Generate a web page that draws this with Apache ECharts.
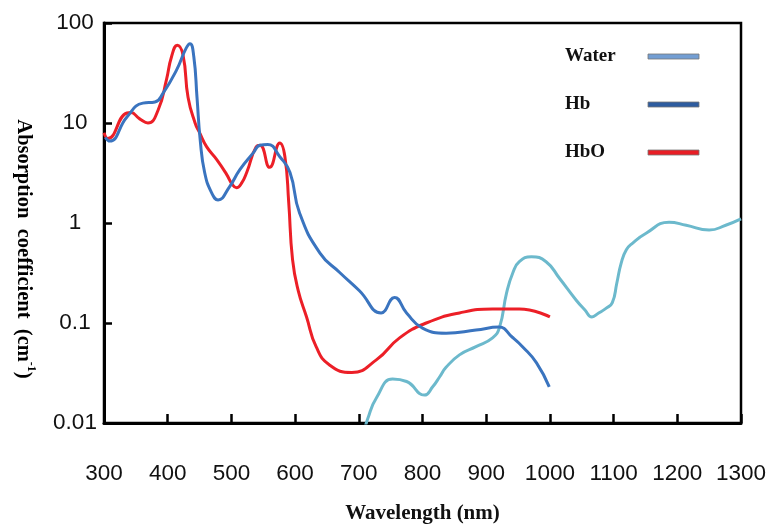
<!DOCTYPE html>
<html>
<head>
<meta charset="utf-8">
<script src="https://cdn.jsdelivr.net/npm/echarts@6/dist/echarts.min.js"></script>
<style>
html,body{margin:0;padding:0;background:#fff;}
#chart{width:769px;height:526px;}
</style>
</head>
<body>
<div id="chart"></div>
<script>
// ---- data ----
const seriesNames = ['Water', 'Hb', 'HbO'];
const xTickLabels = ['300','400','500','600','700','800','900','1000','1100','1200','1300'];
const yTickLabels = ['0.01','0.1','1','10','100'];

const waterWavelengths = [708, 714, 728, 753, 775, 803, 816, 827, 837, 858, 884, 910, 921, 932, 942, 952, 971, 994, 1015, 1041, 1055, 1066, 1076, 1088, 1098, 1105, 1112, 1120, 1130, 1151, 1187, 1214, 1250, 1276, 1300];
const waterValues      = [0.008, 0.011, 0.018, 0.0275, 0.026, 0.019, 0.023, 0.029, 0.036, 0.048, 0.058, 0.071, 0.091, 0.2, 0.32, 0.41, 0.46, 0.41, 0.28, 0.17, 0.135, 0.115, 0.125, 0.14, 0.16, 0.25, 0.4, 0.54, 0.63, 0.79, 1.02, 0.95, 0.85, 0.95, 1.1];

const hbWavelengths = [302, 309, 336, 361, 380, 393, 414, 429, 435, 441, 446, 451, 458, 469, 479, 497, 513, 534, 545, 557, 576, 592, 607, 639, 670, 701, 735, 756, 775, 800, 837, 884, 920, 941, 957, 979, 999];
const hbValues      = [7.2, 6.6, 11.5, 15.8, 16.2, 20, 34, 56, 62, 46, 18, 6.8, 3.2, 2.0, 1.7, 2.3, 3.4, 5.0, 6.0, 6.1, 4.6, 3.2, 1.26, 0.5, 0.32, 0.21, 0.126, 0.18, 0.126, 0.089, 0.079, 0.085, 0.091, 0.072, 0.058, 0.04, 0.023];

const hboWavelengths = [300, 306, 336, 342, 356, 369, 385, 398, 406, 415, 424, 432, 443, 450, 461, 477, 492, 502, 508, 516, 524, 539, 545, 560, 576, 584, 590, 596, 605, 618, 633, 654, 689, 728, 764, 806, 858, 910, 952, 1000];
const hboValues      = [8, 7.0, 12.6, 12.7, 11, 10, 13.5, 27, 46, 60, 48, 18, 10, 8, 5.8, 4.3, 3.1, 2.4, 2.25, 2.5, 3.2, 5.8, 6, 3.6, 6.3, 4.6, 1.6, 0.43, 0.21, 0.115, 0.058, 0.038, 0.032, 0.043, 0.071, 0.1, 0.126, 0.138, 0.138, 0.115];

// ---- styles ----
const lineColors   = {Water: '#6cb9cc', Hb: '#3a74bf', HbO: '#ec1f27'};
const legendColors = {Water: '#739ed3', Hb: '#2e5c9f', HbO: '#e81e25'};

function zip(xs, ys) { return xs.map((x, i) => [x, ys[i]]); }
const seriesData = {
  Water: zip(waterWavelengths, waterValues),
  Hb: zip(hbWavelengths, hbValues),
  HbO: zip(hboWavelengths, hboValues)
};

const tickFont = "'Liberation Sans', Arial, sans-serif";
const serif = "'Liberation Serif', 'Times New Roman', serif";

const chart = echarts.init(document.getElementById('chart'));
chart.setOption({
  animation: false,
  backgroundColor: '#fff',
  grid: {
    left: 104, right: 28, top: 23, bottom: 103,
    outerBoundsMode: 'none', containLabel: false,
    show: true, borderColor: '#000', borderWidth: 2.5, backgroundColor: 'transparent'
  },
  legend: {
    orient: 'vertical', align: 'right',
    left: 565, top: 47, padding: 0,
    itemWidth: 51, itemHeight: 5, itemGap: 29,
    icon: 'rect',
    selectedMode: false,
    data: seriesNames.map(n => ({
      name: n,
      itemStyle: {color: legendColors[n], borderColor: '#777', borderWidth: 0.8}
    })),
    formatter: n => '{a|' + n + '}',
    textStyle: {
      rich: {
        a: {width: 78, align: 'left', fontFamily: serif, fontWeight: 'bold', fontSize: 19, color: '#111', lineHeight: 20}
      }
    }
  },
  xAxis: {
    type: 'value', min: 300, max: 1300, interval: 100,
    name: 'Wavelength (nm)', nameLocation: 'middle', nameGap: 80,
    nameTextStyle: {fontFamily: serif, fontWeight: 'bold', fontSize: 21, color: '#111'},
    axisLine: {lineStyle: {color: '#000', width: 3}},
    axisTick: {inside: true, length: 9, lineStyle: {color: '#000', width: 2.5}},
    axisLabel: {
      margin: 39, fontFamily: tickFont, fontSize: 22.5, color: '#111',
      formatter: v => xTickLabels[Math.round((v - 300) / 100)] || ''
    },
    splitLine: {show: false}
  },
  yAxis: {
    type: 'log', logBase: 10, min: 0.01, max: 100,
    axisLine: {show: true, lineStyle: {color: '#000', width: 3}},
    axisTick: {show: true, inside: true, length: 8, lineStyle: {color: '#000', width: 2.5}},
    axisLabel: {
      margin: 29, align: 'center', fontFamily: tickFont, fontSize: 22.5, color: '#111',
      formatter: v => yTickLabels[Math.round(Math.log10(v)) + 2] || ''
    },
    splitLine: {show: false}
  },
  graphic: [{
    type: 'text', x: 25, y: 249, rotation: -Math.PI / 2,
    style: {
      text: '{b|Absorption  coefficient  (cm}{s|-1}{b|)}',
      align: 'center', verticalAlign: 'middle',
      rich: {
        b: {fontFamily: serif, fontWeight: 'bold', fontSize: 20.5, color: '#111', lineHeight: 24, verticalAlign: 'bottom'},
        s: {fontFamily: serif, fontWeight: 'bold', fontSize: 12, color: '#111', lineHeight: 24, verticalAlign: 'top'}
      }
    }
  }],
  series: seriesNames.map(n => ({
    name: n, type: 'line', data: seriesData[n],
    smooth: 0.5, showSymbol: false, symbol: 'none', clip: true,
    itemStyle: {color: legendColors[n]},
    lineStyle: {color: lineColors[n], width: 3},
    z: n === 'Water' ? 2 : (n === 'Hb' ? 4 : 3)
  }))
});
</script>
</body>
</html>
